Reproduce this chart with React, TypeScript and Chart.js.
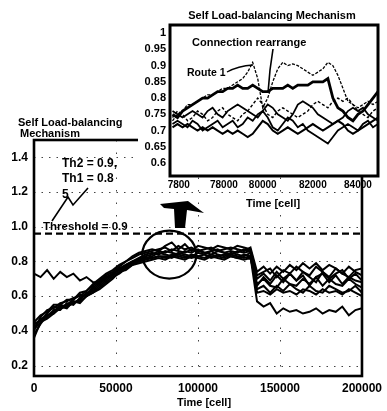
import React, { useEffect, useRef } from "react";
import { Chart, registerables } from "chart.js";
Chart.register(...registerables);

const FONT = '"Liberation Sans", Arial, sans-serif';

// ---------- main chart data ----------
const mainTime = [
  0, 4000, 8000, 12000, 16000, 20000, 24000, 28000, 32000, 36000,
  40000, 44000, 48000, 52000, 56000, 60000, 64000, 68000, 72000, 76000,
  80000, 84000, 88000, 92000, 96000, 100000, 104000, 108000, 112000, 116000,
  120000, 124000, 128000, 132000, 136000, 140000, 144000, 148000, 152000, 156000,
  160000, 164000, 168000, 172000, 176000, 180000, 184000, 188000, 192000, 196000,
  200000,
];
const routeA = [
  0.40, 0.48, 0.52, 0.53, 0.56, 0.57, 0.59, 0.60, 0.63, 0.66,
  0.69, 0.72, 0.74, 0.77, 0.80, 0.82, 0.84, 0.85, 0.86, 0.87,
  0.88, 0.86, 0.89, 0.87, 0.88, 0.86, 0.87, 0.88, 0.86, 0.87,
  0.88, 0.87, 0.86, 0.88, 0.74, 0.77, 0.73, 0.77, 0.74, 0.78,
  0.75, 0.79, 0.76, 0.79, 0.75, 0.78, 0.76, 0.73, 0.77, 0.74,
  0.72,
];
const routeB = [
  0.44, 0.46, 0.50, 0.54, 0.53, 0.55, 0.58, 0.61, 0.60, 0.64,
  0.67, 0.70, 0.73, 0.75, 0.78, 0.80, 0.82, 0.84, 0.85, 0.84,
  0.86, 0.85, 0.84, 0.86, 0.85, 0.87, 0.85, 0.84, 0.86, 0.85,
  0.84, 0.86, 0.85, 0.86, 0.70, 0.73, 0.69, 0.74, 0.70, 0.73,
  0.69, 0.74, 0.71, 0.68, 0.74, 0.70, 0.73, 0.75, 0.70, 0.73,
  0.69,
];
const routeC = [
  0.36, 0.45, 0.49, 0.51, 0.55, 0.54, 0.56, 0.58, 0.62, 0.63,
  0.66, 0.69, 0.72, 0.76, 0.77, 0.79, 0.81, 0.82, 0.83, 0.85,
  0.84, 0.83, 0.85, 0.84, 0.83, 0.85, 0.84, 0.86, 0.84, 0.83,
  0.85, 0.84, 0.83, 0.85, 0.67, 0.70, 0.66, 0.65, 0.70, 0.67,
  0.66, 0.70, 0.67, 0.71, 0.66, 0.70, 0.67, 0.66, 0.70, 0.67,
  0.65,
];
const routeD = [
  0.42, 0.47, 0.48, 0.52, 0.52, 0.56, 0.55, 0.59, 0.61, 0.65,
  0.68, 0.71, 0.72, 0.74, 0.77, 0.79, 0.80, 0.82, 0.82, 0.83,
  0.82, 0.84, 0.83, 0.82, 0.84, 0.83, 0.82, 0.84, 0.83, 0.82,
  0.84, 0.83, 0.82, 0.83, 0.64, 0.66, 0.62, 0.66, 0.63, 0.67,
  0.64, 0.62, 0.66, 0.63, 0.62, 0.66, 0.64, 0.62, 0.63, 0.66,
  0.62,
];
const routeE = [
  0.73, 0.71, 0.75, 0.70, 0.74, 0.71, 0.73, 0.69, 0.71, 0.68,
  0.68, 0.71, 0.73, 0.76, 0.78, 0.80, 0.81, 0.83, 0.84, 0.86,
  0.85, 0.87, 0.86, 0.85, 0.87, 0.86, 0.85, 0.86, 0.87, 0.85,
  0.86, 0.85, 0.87, 0.86, 0.62, 0.63, 0.61, 0.64, 0.62, 0.63,
  0.61, 0.64, 0.63, 0.61, 0.64, 0.62, 0.63, 0.61, 0.64, 0.62,
  0.60,
];
const routeF = [
  0.38, 0.44, 0.49, 0.50, 0.53, 0.54, 0.57, 0.57, 0.60, 0.62,
  0.65, 0.68, 0.71, 0.73, 0.76, 0.78, 0.80, 0.81, 0.82, 0.83,
  0.83, 0.82, 0.84, 0.83, 0.82, 0.83, 0.84, 0.82, 0.83, 0.84,
  0.83, 0.82, 0.84, 0.83, 0.57, 0.54, 0.56, 0.50, 0.53, 0.51,
  0.52, 0.50, 0.51, 0.53, 0.50, 0.52, 0.51, 0.54, 0.49, 0.52,
  0.53,
];
const routeG = [
  0.41, 0.45, 0.47, 0.50, 0.54, 0.53, 0.57, 0.56, 0.60, 0.62,
  0.64, 0.67, 0.70, 0.74, 0.75, 0.78, 0.79, 0.80, 0.81, 0.82,
  0.81, 0.83, 0.82, 0.81, 0.83, 0.82, 0.81, 0.83, 0.82, 0.81,
  0.83, 0.82, 0.81, 0.82, 0.66, 0.71, 0.67, 0.72, 0.68, 0.73,
  0.69, 0.72, 0.66, 0.71, 0.73, 0.68, 0.72, 0.67, 0.71, 0.69,
  0.68,
];
const routeH = [
  0.45, 0.49, 0.51, 0.55, 0.55, 0.58, 0.58, 0.62, 0.63, 0.67,
  0.70, 0.73, 0.75, 0.78, 0.80, 0.83, 0.85, 0.86, 0.87, 0.86,
  0.89, 0.91, 0.87, 0.90, 0.86, 0.89, 0.88, 0.87, 0.89, 0.88,
  0.87, 0.89, 0.88, 0.87, 0.72, 0.74, 0.76, 0.71, 0.75, 0.73,
  0.77, 0.74, 0.72, 0.77, 0.74, 0.71, 0.76, 0.73, 0.71, 0.75,
  0.76,
];
const mainSeries = [routeA, routeB, routeC, routeD, routeE, routeF, routeG, routeH];
const mainYTicks = [0.2, 0.4, 0.6, 0.8, 1.0, 1.2, 1.4];
const mainYTickLabels = ["0.2", "0.4", "0.6", "0.8", "1.0", "1.2", "1.4"];
const mainXTicks = [0, 50000, 100000, 150000, 200000];
const mainXTickLabels = ["0", "50000", "100000", "150000", "200000"];
const thresholdValue = 0.96;

// ---------- inset chart data ----------
const insetTime = [
  76400, 76600, 76800, 77000, 77200, 77400, 77600, 77800, 78000, 78200,
  78400, 78600, 78800, 79000, 79200, 79400, 79600, 79800, 80000, 80200,
  80400, 80600, 80800, 81000, 81200, 81400, 81600, 81800, 82000, 82200,
  82400, 82600, 82800, 83000, 83200, 83400, 83600, 83800, 84000, 84200,
  84400, 84600,
];
const insetRoute1 = [
  0.75, 0.74, 0.76, 0.77, 0.78, 0.79, 0.80, 0.80, 0.81, 0.82,
  0.82, 0.83, 0.83, 0.84, 0.83, 0.83, 0.84, 0.83, 0.82, 0.82,
  0.83, 0.83, 0.83, 0.84, 0.83, 0.84, 0.84, 0.84, 0.85, 0.85,
  0.85, 0.86, 0.80, 0.77, 0.76, 0.74, 0.73, 0.75, 0.76, 0.78,
  0.80, 0.82,
];
const insetRearranged = [
  0.73, 0.75, 0.76, 0.78, 0.78, 0.79, 0.80, 0.81, 0.81, 0.82,
  0.83, 0.83, 0.84, 0.85, 0.86, 0.88, 0.91, 0.86, 0.77, 0.80,
  0.85, 0.89, 0.91, 0.90, 0.905, 0.90, 0.89, 0.88, 0.87, 0.88,
  0.89, 0.91, 0.90, 0.87, 0.83, 0.79, 0.78, 0.77, 0.78, 0.79,
  0.78, 0.79,
];
const insetRouteC = [
  0.76, 0.75, 0.74, 0.75, 0.76, 0.75, 0.74, 0.76, 0.77, 0.75,
  0.74, 0.76, 0.77, 0.78, 0.77, 0.76, 0.75, 0.74, 0.76, 0.78,
  0.77, 0.75, 0.74, 0.73, 0.75, 0.78, 0.79, 0.78, 0.77, 0.75,
  0.74, 0.73, 0.72, 0.73, 0.74, 0.76, 0.77, 0.76, 0.77, 0.75,
  0.74, 0.73,
];
const insetRouteD = [
  0.72, 0.73, 0.72, 0.71, 0.73, 0.72, 0.70, 0.71, 0.72, 0.73,
  0.71, 0.72, 0.73, 0.71, 0.72, 0.74, 0.73, 0.75, 0.76, 0.74,
  0.71, 0.70, 0.72, 0.74, 0.73, 0.71, 0.72, 0.70, 0.69, 0.68,
  0.67, 0.66, 0.68, 0.70, 0.71, 0.72, 0.71, 0.70, 0.72, 0.73,
  0.71, 0.72,
];
const insetRouteE = [
  0.71, 0.72, 0.71, 0.72, 0.71, 0.70, 0.71, 0.70, 0.71, 0.70,
  0.69, 0.70, 0.69, 0.70, 0.69, 0.68, 0.69, 0.71, 0.73, 0.72,
  0.70, 0.69, 0.70, 0.71, 0.70, 0.69, 0.70, 0.71, 0.72, 0.71,
  0.70, 0.71, 0.72, 0.73, 0.72, 0.70, 0.69, 0.70, 0.71, 0.72,
  0.73, 0.74,
];
const insetRouteF = [
  0.74, 0.76, 0.75, 0.73, 0.74, 0.76, 0.75, 0.73, 0.74, 0.76,
  0.77, 0.75, 0.74, 0.73, 0.75, 0.76, 0.78, 0.80, 0.78, 0.75,
  0.74, 0.76, 0.77, 0.76, 0.75, 0.74, 0.75, 0.76, 0.78, 0.79,
  0.78, 0.77, 0.79, 0.80, 0.79, 0.80, 0.78, 0.76, 0.75, 0.74,
  0.76, 0.77,
];
const insetYTicks = [0.6, 0.65, 0.7, 0.75, 0.8, 0.85, 0.9, 0.95, 1.0];
const insetYTickLabels = ["0.6", "0.65", "0.7", "0.75", "0.8", "0.85", "0.9", "0.95", "1"];
const insetXTicks = [76650, 78450, 80000, 82000, 83800];
const insetXTickLabels = ["7800", "78000", "80000", "82000", "84000"];

const boldFont = (size: number) => `bold ${size}px ${FONT}`;

const mainDecor = {
  id: "mainDecor",
  beforeDatasetsDraw(chart: any) {
    const { ctx, chartArea: a, scales } = chart;
    const x = scales.x, y = scales.y;
    ctx.save();
    ctx.strokeStyle = "#444";
    ctx.lineWidth = 1;
    ctx.setLineDash([1.5, 6]);
    mainYTicks.forEach((v) => {
      const py = Math.round(y.getPixelForValue(v)) + 0.5;
      ctx.beginPath();
      ctx.moveTo(a.left, py);
      ctx.lineTo(a.right, py);
      ctx.stroke();
    });
    ctx.setLineDash([1.5, 11]);
    mainXTicks.slice(1, -1).forEach((v) => {
      const px = Math.round(x.getPixelForValue(v)) + 0.5;
      ctx.beginPath();
      ctx.moveTo(px, a.top);
      ctx.lineTo(px, a.bottom);
      ctx.stroke();
    });
    ctx.restore();
  },
  afterDatasetsDraw(chart: any) {
    const { ctx, chartArea: a, scales } = chart;
    const x = scales.x, y = scales.y;
    ctx.save();
    // threshold
    ctx.strokeStyle = "#000";
    ctx.lineWidth = 2.2;
    ctx.setLineDash([7, 4]);
    const ty = y.getPixelForValue(thresholdValue);
    ctx.beginPath();
    ctx.moveTo(a.left, ty);
    ctx.lineTo(a.right, ty);
    ctx.stroke();
    ctx.setLineDash([]);
    // frame
    ctx.lineWidth = 2.6;
    ctx.strokeRect(a.left, a.top, a.right - a.left, a.bottom - a.top);
    // ellipse around the zoomed region
    ctx.lineWidth = 2.2;
    ctx.beginPath();
    ctx.ellipse(x.getPixelForValue(82500), y.getPixelForValue(0.84), 27, 24, 0, 0, Math.PI * 2);
    ctx.stroke();
    // big arrow pointing to the inset
    ctx.fillStyle = "#000";
    ctx.beginPath();
    ctx.moveTo(160, 204);
    ctx.lineTo(188, 201);
    ctx.lineTo(204, 213);
    ctx.lineTo(187, 210);
    ctx.lineTo(185, 228);
    ctx.lineTo(175, 228);
    ctx.lineTo(174, 209);
    ctx.lineTo(164, 208);
    ctx.closePath();
    ctx.fill();
    // zigzag pointer
    ctx.lineWidth = 1.6;
    ctx.beginPath();
    ctx.moveTo(52, 221);
    ctx.lineTo(68, 197);
    ctx.lineTo(73, 205);
    ctx.lineTo(88, 188);
    ctx.stroke();
    // texts
    ctx.fillStyle = "#000";
    ctx.textBaseline = "alphabetic";
    ctx.textAlign = "left";
    ctx.font = boldFont(11);
    ctx.fillText("Self Load-balancing", 18, 126);
    ctx.fillText("Mechanism", 20, 137);
    ctx.font = boldFont(12);
    ctx.fillText("Th2 = 0.9,", 62, 167);
    ctx.fillText("Th1 = 0.8", 62, 182);
    ctx.fillText("5", 62, 198);
    ctx.font = boldFont(11.5);
    ctx.fillText("Threshold = 0.9", 43, 230);
    ctx.font = boldFont(11);
    ctx.textAlign = "center";
    ctx.fillText("Time [cell]", (a.left + a.right) / 2 + 6, 406);
    ctx.restore();
  },
};

const insetDecor = {
  id: "insetDecor",
  beforeDraw(chart: any) {
    const { ctx } = chart;
    ctx.save();
    ctx.fillStyle = "#fff";
    ctx.fillRect(138, 0, 249, 177);
    ctx.restore();
  },
  afterDatasetsDraw(chart: any) {
    const { ctx, chartArea: a } = chart;
    ctx.save();
    ctx.strokeStyle = "#000";
    ctx.lineWidth = 3;
    ctx.strokeRect(a.left, a.top, a.right - a.left, a.bottom - a.top);
    // leader lines
    ctx.lineWidth = 1.6;
    ctx.beginPath();
    ctx.moveTo(273, 49);
    ctx.lineTo(270, 70);
    ctx.lineTo(268, 93);
    ctx.stroke();
    ctx.lineWidth = 1.3;
    ctx.beginPath();
    ctx.moveTo(227, 72);
    ctx.quadraticCurveTo(238, 66, 253, 65);
    ctx.stroke();
    ctx.fillStyle = "#000";
    ctx.textAlign = "left";
    ctx.font = boldFont(11);
    ctx.fillText("Connection rearrange", 192, 46);
    ctx.font = boldFont(10.5);
    ctx.fillText("Route 1", 187, 76);
    ctx.font = boldFont(11);
    ctx.textAlign = "center";
    ctx.fillText("Self Load-balancing Mechanism", 272, 19);
    ctx.fillText("Time [cell]", 273, 207);
    ctx.restore();
  },
};

export default function App() {
  const mainRef = useRef<HTMLCanvasElement>(null);
  const insetRef = useRef<HTMLCanvasElement>(null);

  useEffect(() => {
    const mainChart = new Chart(mainRef.current as HTMLCanvasElement, {
      type: "line",
      data: {
        datasets: mainSeries.map((s) => ({
          data: mainTime.map((t, i) => ({ x: t, y: s[i] })),
          borderColor: "#000",
          borderWidth: 2,
          pointRadius: 0,
          tension: 0,
          fill: false,
        })),
      },
      options: {
        animation: false,
        responsive: false,
        maintainAspectRatio: false,
        events: [],
        layout: { padding: { left: 0, top: 140, right: 20, bottom: 15 } },
        plugins: { legend: { display: false }, tooltip: { enabled: false }, title: { display: false } },
        scales: {
          x: {
            type: "linear",
            min: 0,
            max: 200000,
            grid: { display: false, drawTicks: false },
            border: { display: false },
            afterBuildTicks: (s: any) => {
              s.ticks = mainXTicks.map((v) => ({ value: v }));
            },
            afterFit: (s: any) => {
              s.height = 20;
            },
            ticks: {
              autoSkip: false,
              maxRotation: 0,
              padding: 5,
              color: "#000",
              font: { family: FONT, size: 12, weight: "bold" },
              callback: (_v: any, i: number) => mainXTickLabels[i],
            },
          },
          y: {
            type: "linear",
            min: 0.14,
            max: 1.5,
            grid: { display: false, drawTicks: false },
            border: { display: false },
            afterBuildTicks: (s: any) => {
              s.ticks = mainYTicks.map((v) => ({ value: v }));
            },
            afterFit: (s: any) => {
              s.width = 34;
            },
            ticks: {
              autoSkip: false,
              padding: 6,
              color: "#000",
              font: { family: FONT, size: 12, weight: "bold" },
              callback: (_v: any, i: number) => mainYTickLabels[i],
            },
          },
        },
      } as any,
      plugins: [mainDecor],
    });

    const insetSets = [
      { s: insetRouteC, w: 1.8, dash: [] as number[] },
      { s: insetRouteD, w: 1.8, dash: [] as number[] },
      { s: insetRouteE, w: 2, dash: [] as number[] },
      { s: insetRouteF, w: 1.4, dash: [3, 2] },
      { s: insetRearranged, w: 1.3, dash: [3, 1.5] },
      { s: insetRoute1, w: 2.8, dash: [] as number[] },
    ];
    const insetChart = new Chart(insetRef.current as HTMLCanvasElement, {
      type: "line",
      data: {
        datasets: insetSets.map((d) => ({
          data: insetTime.map((t, i) => ({ x: t, y: d.s[i] })),
          borderColor: "#000",
          borderWidth: d.w,
          borderDash: d.dash,
          pointRadius: 0,
          tension: 0,
          fill: false,
        })),
      },
      options: {
        animation: false,
        responsive: false,
        maintainAspectRatio: false,
        events: [],
        layout: { padding: { left: 140, top: 25, right: 9, bottom: 219 } },
        plugins: { legend: { display: false }, tooltip: { enabled: false }, title: { display: false } },
        scales: {
          x: {
            type: "linear",
            min: 76300,
            max: 84600,
            grid: { display: false, drawTicks: false },
            border: { display: false },
            afterBuildTicks: (s: any) => {
              s.ticks = insetXTicks.map((v) => ({ value: v }));
            },
            afterFit: (s: any) => {
              s.height = 16;
            },
            ticks: {
              autoSkip: false,
              maxRotation: 0,
              padding: 3,
              color: "#000",
              font: { family: FONT, size: 10, weight: "bold" },
              callback: (_v: any, i: number) => insetXTickLabels[i],
            },
          },
          y: {
            type: "linear",
            min: 0.56,
            max: 1.025,
            grid: { display: false, drawTicks: false },
            border: { display: false },
            afterBuildTicks: (s: any) => {
              s.ticks = insetYTicks.map((v) => ({ value: v }));
            },
            afterFit: (s: any) => {
              s.width = 30;
            },
            ticks: {
              autoSkip: false,
              padding: 4,
              color: "#000",
              font: { family: FONT, size: 11, weight: "bold" },
              callback: (_v: any, i: number) => insetYTickLabels[i],
            },
          },
        },
      } as any,
      plugins: [insetDecor],
    });

    return () => {
      mainChart.destroy();
      insetChart.destroy();
    };
  }, []);

  return (
    <div style={{ position: "absolute", left: 0, top: 0, width: 387, height: 411, background: "#fff" }}>
      <canvas ref={mainRef} width={387} height={411} style={{ position: "absolute", left: 0, top: 0, display: "block" }} />
      <canvas ref={insetRef} width={387} height={411} style={{ position: "absolute", left: 0, top: 0, display: "block" }} />
    </div>
  );
}
